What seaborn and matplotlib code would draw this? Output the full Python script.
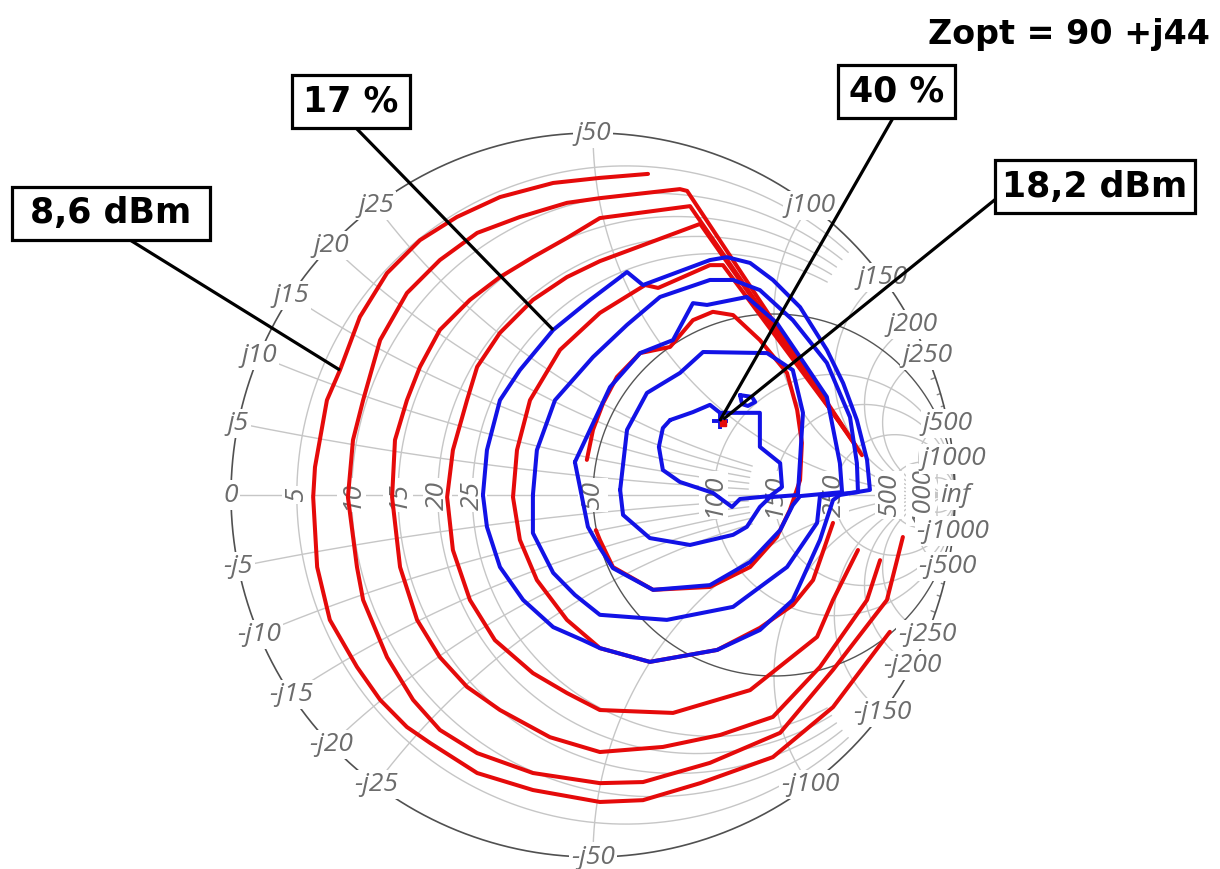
import numpy as np
import pandas as pd
import matplotlib
matplotlib.use("Agg")
import matplotlib.pyplot as plt
from matplotlib.patches import Rectangle
import seaborn as sns

# reference impedance and optimum load (ohm)
Z0 = 50.0
Z_OPT = complex(90, 44)

# Smith chart grid values (ohm)
r_circles_small = [5, 10, 15, 20, 25]
r_circles_big = [100, 150, 250, 500, 1000]
x_arcs_small = [5, 10, 15, 20, 25]
x_arcs_big = [50, 100, 150, 200, 250, 500, 1000]
x_arcs_edge = [300, 350, 400, 450]
real_tick_labels = [5, 10, 15, 20, 25, 50, 100, 150, 250, 500, 1000]
imag_tick_labels = [5, 10, 15, 20, 25, 50, 100, 150, 200, 250, 500, 1000]

# output power contours (red) (re, im)
pout_1 = [(0.152, 0.887), (0.019, 0.876), (-0.110, 0.862), (-0.257, 0.823), (-0.376, 0.768),
          (-0.478, 0.704), (-0.569, 0.613), (-0.644, 0.492), (-0.699, 0.345), (-0.735, 0.262),
          (-0.768, 0.077), (-0.773, -0.006), (-0.762, -0.199), (-0.727, -0.345), (-0.652, -0.475),
          (-0.588, -0.566), (-0.514, -0.641), (-0.450, -0.685), (-0.320, -0.768), (-0.166, -0.815),
          (0.019, -0.848), (0.138, -0.843), (0.296, -0.796), (0.497, -0.724), (0.663, -0.586),
          (0.820, -0.378)]
pout_2 = [(0.856, -0.116), (0.812, -0.290), (0.663, -0.483), (0.517, -0.657), (0.323, -0.740),
          (0.138, -0.793), (0.019, -0.796), (-0.166, -0.768), (-0.320, -0.713), (-0.423, -0.649),
          (-0.497, -0.566), (-0.569, -0.448), (-0.635, -0.290), (-0.652, -0.199), (-0.677, -0.006),
          (-0.663, 0.152), (-0.635, 0.262), (-0.588, 0.428), (-0.514, 0.558), (-0.423, 0.649),
          (-0.320, 0.724), (-0.202, 0.768), (-0.072, 0.807), (0.019, 0.820), (0.240, 0.845),
          (0.260, 0.840), (0.743, 0.110)]
pout_3 = [(0.793, -0.180), (0.757, -0.290), (0.627, -0.475), (0.497, -0.613), (0.351, -0.663),
          (0.193, -0.696), (0.019, -0.710), (-0.119, -0.669), (-0.257, -0.594), (-0.348, -0.530),
          (-0.423, -0.448), (-0.486, -0.345), (-0.533, -0.199), (-0.555, -0.006), (-0.547, 0.152),
          (-0.514, 0.262), (-0.478, 0.354), (-0.423, 0.456), (-0.340, 0.539), (-0.257, 0.602),
          (-0.166, 0.657), (-0.072, 0.710), (0.019, 0.765), (0.268, 0.798), (0.724, 0.138)]
pout_4 = [(0.732, -0.152), (0.663, -0.290), (0.619, -0.392), (0.434, -0.539), (0.221, -0.602),
          (0.019, -0.594), (-0.072, -0.547), (-0.166, -0.492), (-0.271, -0.401), (-0.340, -0.290),
          (-0.387, -0.152), (-0.403, -0.006), (-0.387, 0.124), (-0.348, 0.262), (-0.320, 0.354),
          (-0.257, 0.448), (-0.166, 0.539), (-0.072, 0.602), (0.019, 0.646), (0.296, 0.749),
          (0.696, 0.180)]
pout_5 = [(0.663, -0.077), (0.608, -0.235), (0.552, -0.304), (0.461, -0.367), (0.343, -0.428),
          (0.157, -0.461), (0.019, -0.423), (-0.072, -0.345), (-0.155, -0.235), (-0.202, -0.124),
          (-0.221, -0.006), (-0.210, 0.124), (-0.174, 0.262), (-0.091, 0.401), (0.019, 0.503),
          (0.144, 0.580), (0.180, 0.572), (0.323, 0.635), (0.359, 0.635), (0.677, 0.207)]
pout_6 = [(-0.017, 0.097), (0.000, 0.180), (0.028, 0.254), (0.066, 0.326), (0.130, 0.392),
          (0.213, 0.409), (0.276, 0.483), (0.331, 0.506), (0.387, 0.497), (0.461, 0.428),
          (0.536, 0.337), (0.564, 0.235), (0.577, 0.144), (0.572, 0.041), (0.544, -0.041),
          (0.508, -0.116), (0.434, -0.199), (0.323, -0.254), (0.166, -0.262), (0.055, -0.199),
          (0.019, -0.124), (0.008, -0.097)]

# drain efficiency contours (blue), closed loops
eff_1 = [(-0.304, 0.000), (-0.293, 0.124), (-0.257, 0.262), (-0.202, 0.345), (-0.110, 0.456),
         (-0.008, 0.539), (0.094, 0.616), (0.138, 0.580), (0.323, 0.649), (0.370, 0.657),
         (0.434, 0.641), (0.497, 0.594), (0.572, 0.519), (0.646, 0.401), (0.691, 0.309),
         (0.729, 0.207), (0.757, 0.097), (0.765, 0.014), (0.682, 0.000), (0.663, -0.014),
         (0.627, -0.124), (0.552, -0.290), (0.461, -0.373), (0.343, -0.428), (0.157, -0.461),
         (0.019, -0.423), (-0.028, -0.401), (-0.110, -0.365), (-0.193, -0.290), (-0.257, -0.199),
         (-0.293, -0.088)]
eff_2 = [(-0.166, 0.000), (-0.155, 0.124), (-0.105, 0.262), (0.000, 0.381), (0.094, 0.470),
         (0.185, 0.547), (0.323, 0.594), (0.387, 0.594), (0.461, 0.566), (0.552, 0.483),
         (0.646, 0.365), (0.710, 0.215), (0.729, 0.088), (0.732, 0.008), (0.627, -0.003),
         (0.619, -0.077), (0.536, -0.199), (0.387, -0.309), (0.204, -0.345), (0.019, -0.331),
         (-0.050, -0.276), (-0.110, -0.215), (-0.166, -0.105)]
eff_3 = [(-0.050, 0.091), (0.047, 0.298), (0.130, 0.392), (0.221, 0.428), (0.276, 0.530),
         (0.315, 0.525), (0.425, 0.547), (0.508, 0.475), (0.572, 0.381), (0.646, 0.271),
         (0.682, 0.088), (0.688, 0.008), (0.572, -0.003), (0.552, -0.028), (0.517, -0.097),
         (0.434, -0.185), (0.323, -0.249), (0.166, -0.262), (0.055, -0.202), (0.019, -0.146),
         (-0.014, -0.088)]
eff_4 = [(0.075, 0.014), (0.094, 0.180), (0.149, 0.282), (0.240, 0.337), (0.304, 0.395),
         (0.481, 0.392), (0.552, 0.345), (0.580, 0.227), (0.572, 0.097), (0.566, 0.000),
         (0.489, -0.006), (0.461, -0.033), (0.425, -0.088), (0.387, -0.110), (0.268, -0.138),
         (0.157, -0.119), (0.083, -0.055)]
eff_5 = [(0.213, 0.207), (0.276, 0.229), (0.323, 0.249), (0.351, 0.227), (0.461, 0.227),
         (0.461, 0.133), (0.517, 0.088), (0.522, 0.022), (0.489, -0.003), (0.406, -0.011),
         (0.384, -0.033), (0.331, 0.006), (0.240, 0.036), (0.193, 0.069), (0.182, 0.133),
         (0.193, 0.185)]
eff_6 = [(0.406, 0.276), (0.439, 0.271), (0.448, 0.257), (0.428, 0.246), (0.412, 0.251)]

pout_contours = [pout_1, pout_2, pout_3, pout_4, pout_5, pout_6]
eff_contours = [eff_1, eff_2, eff_3, eff_4, eff_5, eff_6]

RED = "#e50a0a"
BLUE = "#1212e6"
GRID = "#c6c6c6"
LABEL = "#6c6c6c"

sns.set_style("white")
plt.rcParams["font.family"] = ["DejaVu Sans"]


def gamma(z):
    return (z - Z0) / (z + Z0)


def r_circle(r, xmax=None):
    if xmax is None:
        x = Z0 * np.tan(np.linspace(-np.pi / 2 + 1e-4, np.pi / 2 - 1e-4, 800))
    else:
        x = np.linspace(-xmax, xmax, 800)
    return gamma(r + 1j * x)


def x_arc(x, rmax=None):
    if rmax is None:
        r = Z0 * np.tan(np.linspace(0, np.pi / 2 - 1e-4, 600))
    else:
        r = np.linspace(0, rmax, 600)
    return gamma(r + 1j * x)


# pixel position on the 1220x869 canvas -> chart coords (used only for layout)
def px(xp, yp):
    return (xp - 593) / 362, (495 - yp) / 362


fig = plt.figure(figsize=(12.2, 8.69), dpi=100)
ax = fig.add_axes([0, 0, 1, 1])

# ---- grid ----
for r in r_circles_small:
    g = r_circle(r, xmax=125)
    ax.plot(g.real, g.imag, color=GRID, lw=1.0, zorder=1)
for r in r_circles_big:
    g = r_circle(r)
    ax.plot(g.real, g.imag, color=GRID, lw=1.0, zorder=1)
g = r_circle(Z0)
ax.plot(g.real, g.imag, color="#555555", lw=1.0, zorder=1.5)
for x in x_arcs_small:
    for s in (1, -1):
        g = x_arc(s * x, rmax=125)
        ax.plot(g.real, g.imag, color=GRID, lw=1.0, zorder=1)
for x in x_arcs_big:
    for s in (1, -1):
        g = x_arc(s * x)
        ax.plot(g.real, g.imag, color=GRID, lw=1.0, zorder=1)
for x in x_arcs_edge:
    for s in (1, -1):
        g = x_arc(s * x, rmax=12)
        ax.plot(g.real, g.imag, color="#8a8a8a", lw=1.0, zorder=1)
ax.plot([-1, 1], [0, 0], color=GRID, lw=1.0, zorder=1)
t = np.linspace(0, 2 * np.pi, 1000)
ax.plot(np.cos(t), np.sin(t), color="#505050", lw=1.2, zorder=1.5)

# ---- tick labels ----
lab_kw = dict(color=LABEL, fontsize=19, style="italic", family=["Open Sans", "DejaVu Sans"],
              ha="center", va="center", zorder=3,
              bbox=dict(boxstyle="square,pad=0.08", fc="white", ec="none"))
for r in real_tick_labels:
    g = gamma(complex(r, 0))
    ax.text(g.real, g.imag, str(r), rotation=90, **lab_kw)
for x in imag_tick_labels:
    g = gamma(complex(0, x))
    ax.text(g.real, g.imag, f"j{x}", **lab_kw)
    ax.text(g.real, -g.imag, f"-j{x}", **lab_kw)
ax.text(-1, 0, "0", **lab_kw)
ax.text(1, 0, "inf", **lab_kw)

# ---- contours ----
for pts in pout_contours:
    df = pd.DataFrame(pts, columns=["re", "im"])
    sns.lineplot(data=df, x="re", y="im", sort=False, estimator=None, color=RED,
                 lw=2.9, ax=ax, zorder=5, legend=False)
for pts in eff_contours:
    df = pd.DataFrame(pts + pts[:1], columns=["re", "im"])
    sns.lineplot(data=df, x="re", y="im", sort=False, estimator=None, color=BLUE,
                 lw=2.9, ax=ax, zorder=5.5, legend=False)

g_opt = gamma(Z_OPT)
ax.plot(g_opt.real, g_opt.imag, marker="+", color=BLUE, ms=11, mew=2.8, zorder=6)
ax.plot(g_opt.real + 0.008, g_opt.imag - 0.006, marker="s", color=RED, ms=4.5, zorder=6)

# ---- annotations ----
boxes = [
    ("8,6 dBm", (12, 187, 210, 240), (130, 240), pout_1[8]),
    ("17 %", (292, 75, 410, 128), (356, 128), eff_1[4]),
    ("40 %", (838, 65, 955, 118), (893, 118), (g_opt.real, g_opt.imag)),
    ("18,2 dBm", (995, 160, 1195, 213), (997, 198), (g_opt.real + 0.01, g_opt.imag + 0.005)),
]
for text, (x0, y0, x1, y1), start, end in boxes:
    sx, sy = px(*start)
    ax.plot([sx, end[0]], [sy, end[1]], color="black", lw=2.3, zorder=7,
            solid_capstyle="butt")
    bx, by = px(x0, y1)
    ax.add_patch(Rectangle((bx, by), (x1 - x0) / 362, (y1 - y0) / 362, fc="white",
                           ec="black", lw=2.3, zorder=8))
    cx, cy = px((x0 + x1) / 2, (y0 + y1) / 2)
    ax.text(cx, cy, text, ha="center", va="center", fontsize=25, fontweight="bold",
            color="black", zorder=9)

zx, zy = px(1210, 35)
ax.text(zx, zy, "Zopt = 90 +j44", ha="right", va="center", fontsize=24,
        fontweight="bold", color="black", zorder=9)

ax.set_xlim(-593 / 362, 627 / 362)
ax.set_ylim(-374 / 362, 495 / 362)
ax.set_xlabel("")
ax.set_ylabel("")
ax.axis("off")

fig.savefig("out.png", dpi=100)
